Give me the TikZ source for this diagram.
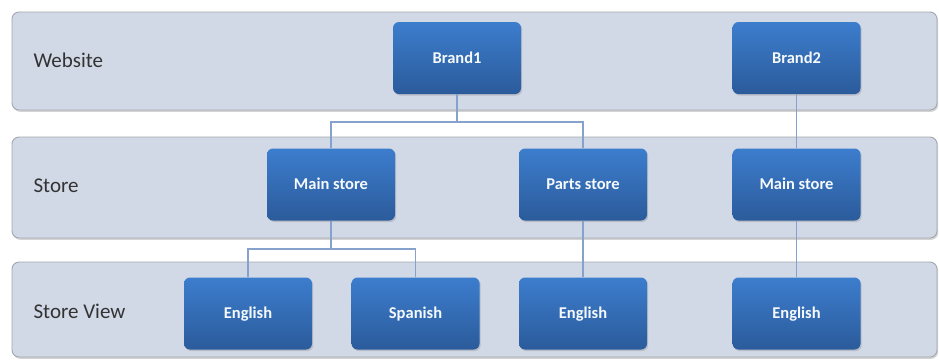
\documentclass[tikz,border=0pt]{standalone}
\usepackage{fontspec}
\setmainfont{Carlito}
\usetikzlibrary{shadows}
\definecolor{bandfill}{HTML}{D1D8E6}
\definecolor{bandline}{HTML}{A3A7AE}
\definecolor{boxtop}{HTML}{3C7DCD}
\definecolor{boxbot}{HTML}{2B5B9B}
\definecolor{linkcol}{HTML}{86A2CC}
\definecolor{labelcol}{HTML}{333333}
\tikzset{
  band/.style={draw=bandline, line width=0.9pt, fill=bandfill, rounded corners=7pt,
    drop shadow={shadow xshift=1.2pt, shadow yshift=-1.8pt, opacity=0.35}},
  unitbox/.style={rounded corners=6pt, minimum width=128pt, minimum height=72pt,
    top color=boxtop, bottom color=boxbot, draw=none, text=white!95!boxtop,
    font=\fontsize{16.5}{16.5}\selectfont\bfseries,
    text height=11pt, text depth=1pt,
    drop shadow={shadow xshift=1.2pt, shadow yshift=-1.5pt, opacity=0.3}},
  rowlabel/.style={anchor=west, text=labelcol, font=\fontsize{21}{21}\selectfont},
  link/.style={draw=linkcol, line width=1.1pt}
}
\begin{document}
\begin{tikzpicture}[x=1pt, y=-1pt]
\useasboundingbox (0,0) rectangle (939,360);
% three horizontal lanes
\path[band] (12,12) rectangle (937,110);
\path[band] (12,137) rectangle (937,238);
\path[band] (12,262) rectangle (937,357);
\node[rowlabel] (lw) at (30,60) {Website};
\node[rowlabel] (ls) at (30,186) {Store};
\node[rowlabel] (lv) at (30,311) {Store View};
% websites
\node[unitbox] (b1) at (457,58) {Brand1};
\node[unitbox] (b2) at (796.5,58) {Brand2};
% stores
\node[unitbox] (m1) at (331,184.5) {Main store};
\node[unitbox] (p1) at (583,184.5) {Parts store};
\node[unitbox] (m2) at (796.5,184.5) {Main store};
% store views
\node[unitbox] (e1) at (248,313.5) {English};
\node[unitbox] (s1) at (415.5,313.5) {Spanish};
\node[unitbox] (e2) at (583,313.5) {English};
\node[unitbox] (e3) at (796.5,313.5) {English};
% connectors
\coordinate (j1) at (457,122);
\coordinate (j2) at (331,249);
\draw[link] (b1.south) -- (j1) -| (m1.north);
\draw[link] (j1) -| (p1.north);
\draw[link] (b2.south) -- (m2.north);
\draw[link] (m1.south) -- (j2) -| (e1.north);
\draw[link] (j2) -| (s1.north);
\draw[link] (p1.south) -- (e2.north);
\draw[link] (m2.south) -- (e3.north);
\end{tikzpicture}
\end{document}
